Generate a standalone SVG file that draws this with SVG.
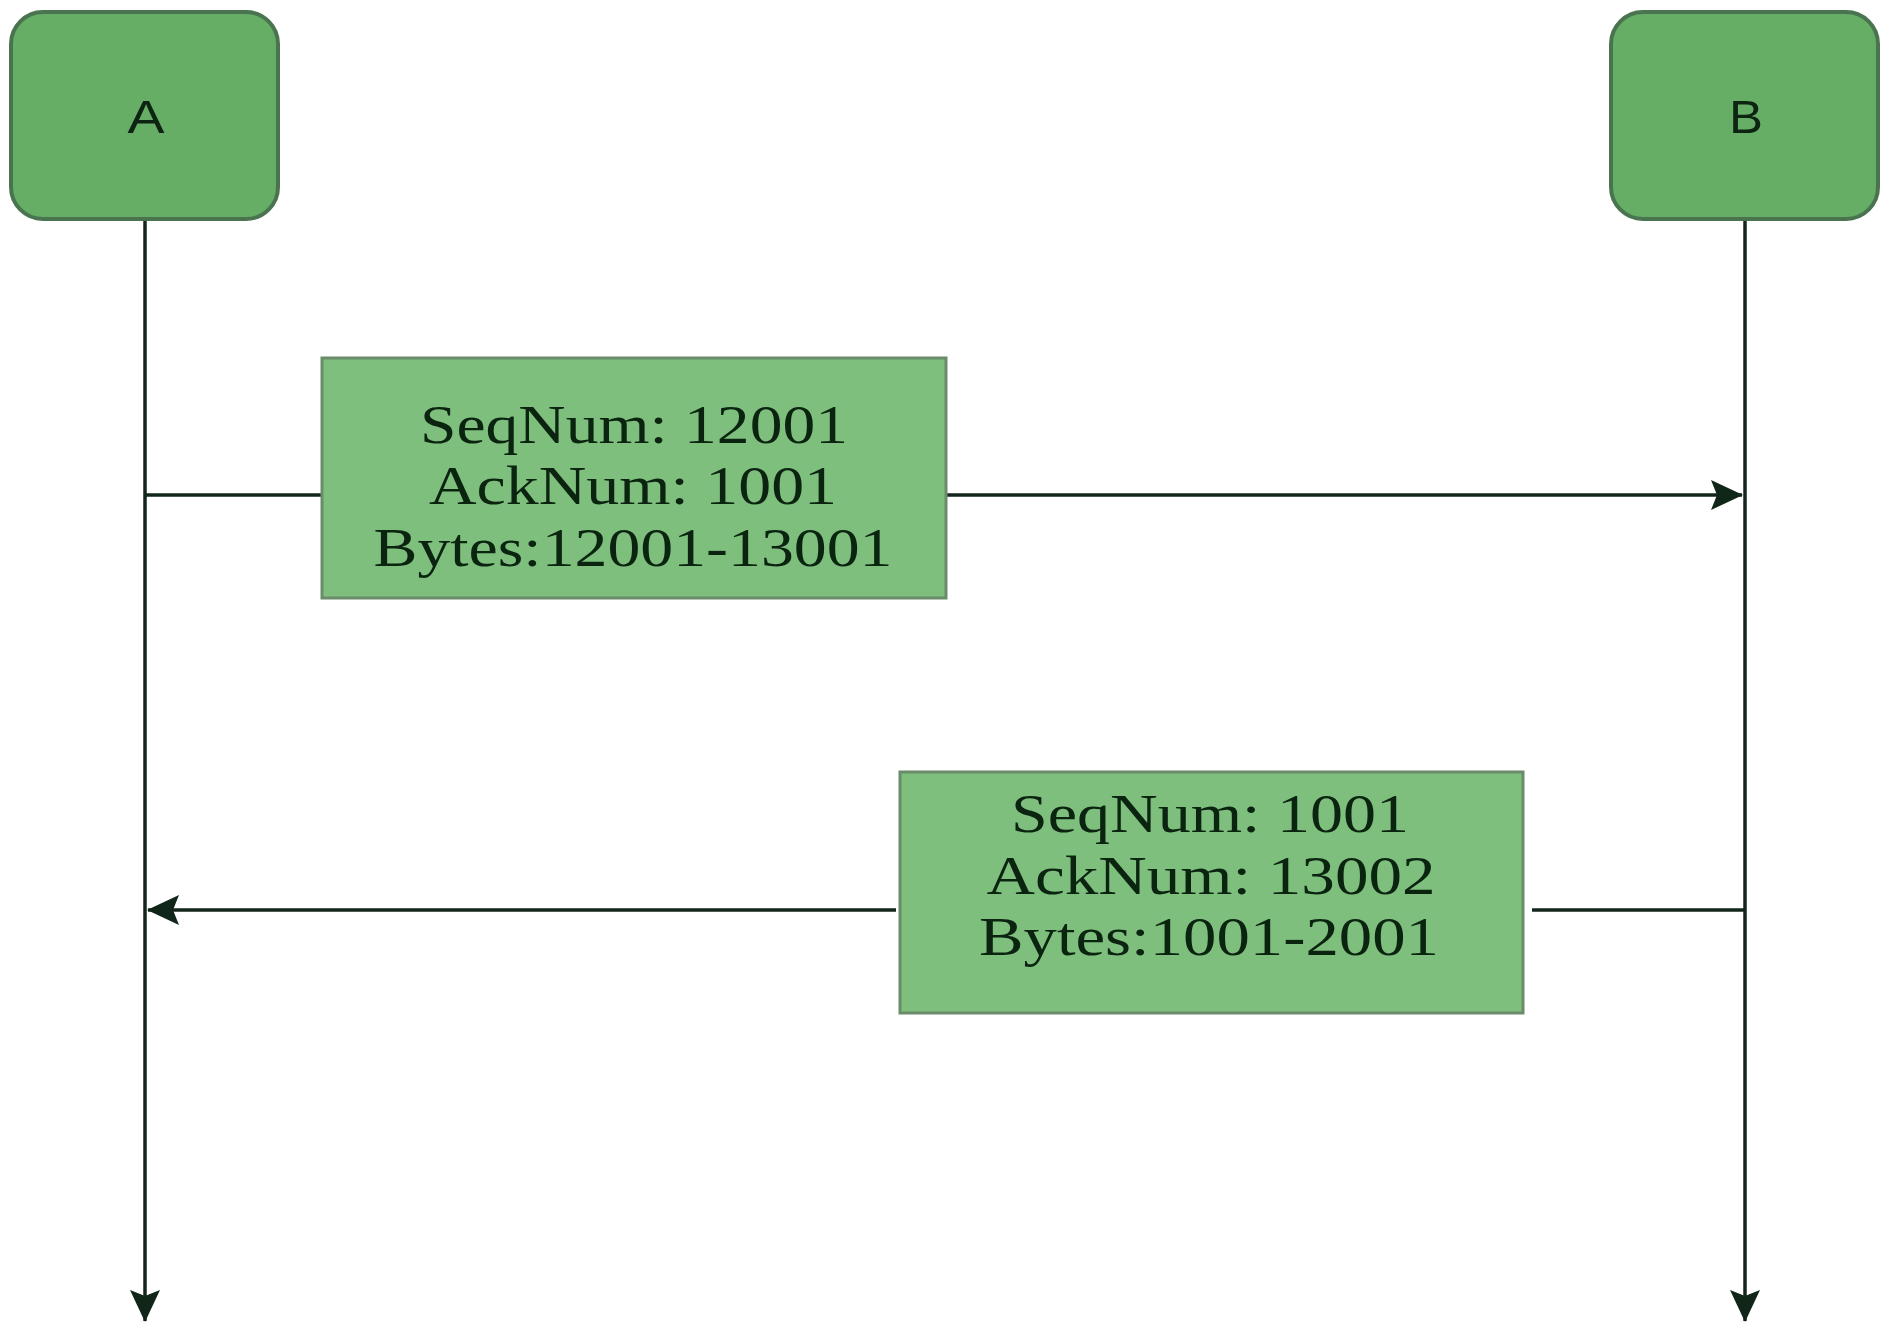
<svg xmlns="http://www.w3.org/2000/svg" width="1891" height="1324" viewBox="0 0 1891 1324">
  <style>
    .actor { fill: #66ae66; stroke: #4a7450; stroke-width: 4; }
    .actor-label { font-family: "Liberation Sans", Arial, sans-serif; font-size: 46px; fill: #0d2412; text-anchor: middle; }
    .msg { fill: #7ebf7e; stroke: #6a8c6a; stroke-width: 3; }
    .msg-label { font-family: "Liberation Serif", "Times New Roman", serif; font-size: 54px; fill: #0b2410; text-anchor: middle; }
    .line { fill: none; stroke: #13261c; stroke-width: 3.5; }
  </style>
  <defs>
    <!-- filled arrowhead with a shallow notch -->
    <marker id="arrow" viewBox="0 0 32 30" refX="31" refY="15" markerWidth="32" markerHeight="30" markerUnits="userSpaceOnUse" orient="auto">
      <path d="M0,0 L32,15 L0,30 L6,15 Z" fill="#0f2619"/>
    </marker>
  </defs>

  <rect width="1891" height="1324" fill="#ffffff"/>

  <!-- lifelines and messages -->
  <g id="connectors">
    <line class="line" x1="145" y1="220" x2="145" y2="1321" marker-end="url(#arrow)"/>
    <line class="line" x1="1745" y1="220" x2="1745" y2="1321" marker-end="url(#arrow)"/>
    <line class="line" x1="145" y1="495" x2="322" y2="495"/>
    <line class="line" x1="947" y1="495" x2="1742" y2="495" marker-end="url(#arrow)"/>
    <line class="line" x1="1745" y1="910" x2="1532" y2="910"/>
    <line class="line" x1="896" y1="910" x2="148" y2="910" marker-end="url(#arrow)"/>
  </g>

  <g id="node-a">
    <rect class="actor" x="11" y="12" width="267" height="207" rx="32" ry="32"/>
    <text class="actor-label" x="146" y="133" textLength="37" lengthAdjust="spacingAndGlyphs">A</text>
  </g>

  <g id="node-b">
    <rect class="actor" x="1611" y="12" width="267" height="207" rx="32" ry="32"/>
    <text class="actor-label" x="1746" y="133" textLength="34" lengthAdjust="spacingAndGlyphs">B</text>
  </g>

  <g id="msg-a-to-b">
    <rect class="msg" x="322" y="358" width="624" height="240"/>
    <text class="msg-label" x="634" y="443" textLength="428" lengthAdjust="spacingAndGlyphs">SeqNum: 12001</text>
    <text class="msg-label" x="633" y="504" textLength="408" lengthAdjust="spacingAndGlyphs">AckNum: 1001</text>
    <text class="msg-label" x="633" y="566" textLength="519" lengthAdjust="spacingAndGlyphs">Bytes:12001-13001</text>
  </g>

  <g id="msg-b-to-a">
    <rect class="msg" x="900" y="772" width="623" height="241"/>
    <text class="msg-label" x="1210" y="832" textLength="398" lengthAdjust="spacingAndGlyphs">SeqNum: 1001</text>
    <text class="msg-label" x="1211" y="894" textLength="449" lengthAdjust="spacingAndGlyphs">AckNum: 13002</text>
    <text class="msg-label" x="1209" y="955" textLength="460" lengthAdjust="spacingAndGlyphs">Bytes:1001-2001</text>
  </g>
</svg>
